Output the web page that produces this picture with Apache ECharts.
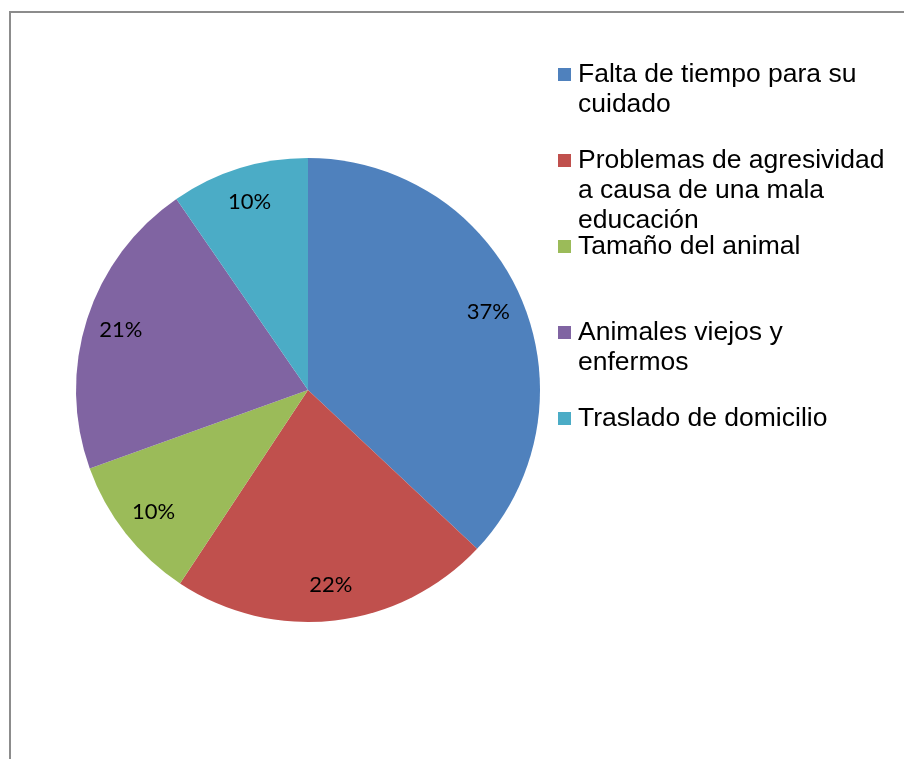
<!DOCTYPE html>
<html>
<head>
<meta charset="utf-8">
<script src="https://cdn.jsdelivr.net/npm/echarts@6/dist/echarts.min.js"></script>
<style>
  html, body { margin: 0; padding: 0; background: #fff; }
  #main { width: 904px; height: 759px; }
</style>
</head>
<body>
<div id="main"></div>
<script>
var categories = ['Falta de tiempo para su cuidado', 'Problemas de agresividad a causa de una mala educación', 'Tamaño del animal', 'Animales viejos y enfermos', 'Traslado de domicilio'];
var legendLines = [
    ['Falta de tiempo para su', 'cuidado'],
    ['Problemas de agresividad', 'a causa de una mala', 'educación'],
    ['Tamaño del animal'],
    ['Animales viejos y', 'enfermos'],
    ['Traslado de domicilio']
];
var values = [37.0, 22.3, 10.2, 20.9, 9.6];
var colors = ['#4F81BD', '#C0504D', '#9BBB59', '#8064A2', '#4BACC6'];

var chart = echarts.init(document.getElementById('main'));

var data = [];
for (var i = 0; i < categories.length; i++) {
    data.push({ name: categories[i], value: values[i] });
}

// legend marker drawn inline so it sits on the first line
var rich = {
    s: { width: 13, height: 13 },
    t: { fontSize: 26.5, fontFamily: 'Liberation Sans', lineHeight: 30, color: '#000', padding: [0, 0, 0, 7] }
};
colors.forEach(function (c, i) {
    rich['m' + i] = { width: 13, height: 13, backgroundColor: c };
});

var legends = categories.map(function (name, i) {
    return {
        data: [name],
        left: 548,
        top: 56 + i * 86,
        icon: 'none',
        itemWidth: 0,
        itemHeight: 14,
        selectedMode: false,
        formatter: function (n) {
            var k = categories.indexOf(n);
            return legendLines[k].map(function (l, j) {
                return (j === 0 ? '{m' + k + '|}' : '{s|}') + '{t|' + l + '}';
            }).join('\n');
        },
        textStyle: { rich: rich }
    };
});

var option = {
    animation: false,
    color: colors,
    graphic: [{
        type: 'rect',
        shape: { x: 10, y: 12, width: 1000, height: 1000 },
        style: { fill: 'none', stroke: '#8c8c8c', lineWidth: 2 },
        silent: true
    }],
    legend: legends,
    series: [
        {
            name: 'pie',
            type: 'pie',
            center: [308, 390],
            radius: 232,
            startAngle: 90,
            clockwise: true,
            label: { show: false },
            labelLine: { show: false },
            emphasis: { scale: false },
            data: data
        },
        {
            name: 'labels',
            type: 'pie',
            center: [308, 390],
            radius: [155, 232],
            startAngle: 90,
            clockwise: true,
            silent: true,
            itemStyle: { color: 'transparent' },
            label: {
                show: true,
                position: 'inside',
                fontFamily: 'Lato',
                fontSize: 22,
                color: '#000',
                formatter: function (p) { return Math.round(p.percent) + '%'; }
            },
            labelLine: { show: false },
            data: data
        }
    ]
};

chart.setOption(option);
</script>
</body>
</html>
